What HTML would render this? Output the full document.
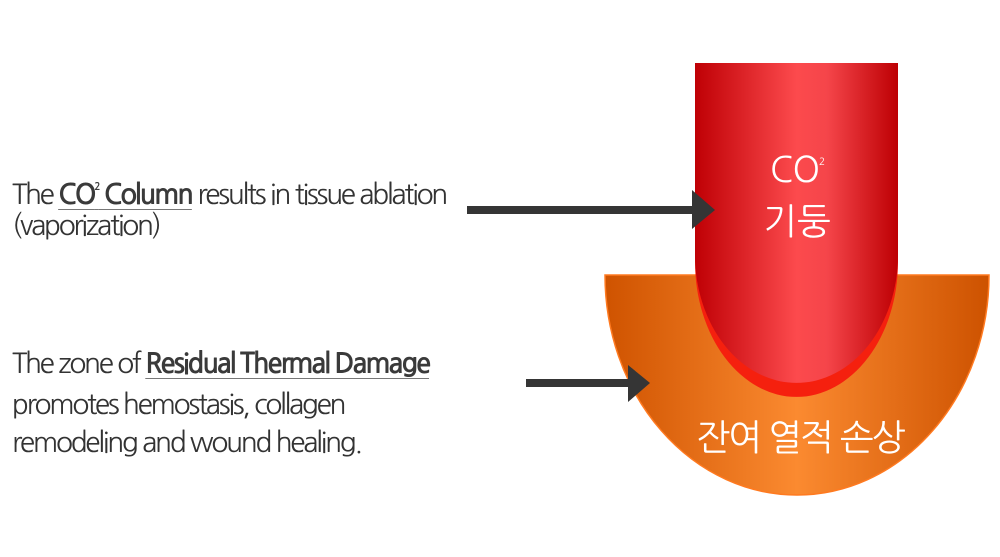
<!DOCTYPE html>
<html><head><meta charset="utf-8"><style>
body{margin:0;width:1000px;height:557px;background:#fff;position:relative;overflow:hidden;font-family:"NanumGothic","Liberation Sans",sans-serif;}
.t{position:absolute;left:12px;font-size:28px;color:#333;letter-spacing:-2.3px;white-space:nowrap;line-height:30px}
b{color:#3a3a3a;text-decoration:underline;text-decoration-color:#777;text-underline-offset:5px;text-decoration-thickness:1px}
sup{font-size:10px;vertical-align:14px}
</style></head><body>
<svg width="1000" height="557" style="position:absolute;left:0;top:0">
<defs>
<linearGradient id="o" x1="0" x2="1">
<stop offset="0" stop-color="#cf5300"/><stop offset="0.5" stop-color="#fb8a30"/><stop offset="1" stop-color="#cd5200"/></linearGradient>
<linearGradient id="r" x1="0" x2="1">
<stop offset="0" stop-color="#bf0005"/><stop offset="0.5" stop-color="#fc4a4d"/><stop offset="0.65" stop-color="#f5454a"/><stop offset="1" stop-color="#bd0004"/></linearGradient>
</defs>
<path d="M605 275 H989 A192 220 0 0 1 605 275 Z" fill="url(#o)" stroke="#ff7a20" stroke-width="1.5"/>
<path d="M695 63 H898 V262 A101.5 135 0 0 1 695 262 Z" fill="#f5200e"/>
<path d="M695 63 H898 V255 A101.5 128 0 0 1 695 255 Z" fill="url(#r)"/>
<rect x="467" y="206" width="230" height="8" fill="#353535"/>
<polygon points="692,190 715,210 692,229" fill="#353535"/>
<rect x="526" y="379" width="106" height="8" fill="#353535"/>
<polygon points="628,365 650,383 628,402" fill="#353535"/>
<text x="797" y="182" fill="#fff" font-size="35" text-anchor="middle" font-family="NanumGothic,sans-serif" letter-spacing="-1">CO<tspan font-size="10" dy="-17">2</tspan></text>
<text x="797" y="234" fill="#fff" font-size="36" text-anchor="middle" font-family="NanumGothic,sans-serif">기둥</text>
<text x="800" y="450" fill="#fff" font-size="36" text-anchor="middle" font-family="NanumGothic,sans-serif" letter-spacing="-2">잔여 열적 손상</text>
</svg>
<div class="t" style="top:173px">The <b>CO<sup>2</sup> Column</b> results in tissue ablation</div>
<div class="t" style="top:211px">(vaporization)</div>
<div class="t" style="top:349px">The zone of <b>Residual Thermal Damage</b></div>
<div class="t" style="top:390px">promotes hemostasis, collagen</div>
<div class="t" style="top:428px">remodeling and wound healing.</div>
</body></html>
